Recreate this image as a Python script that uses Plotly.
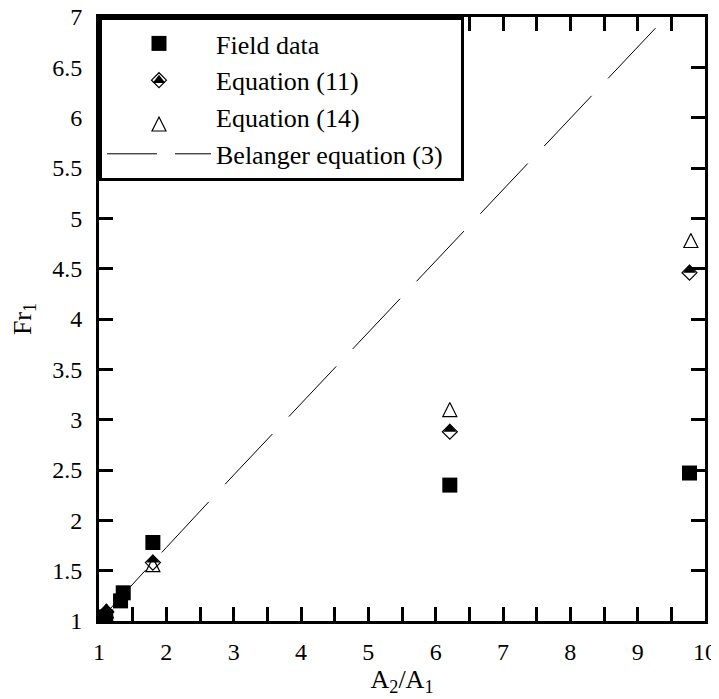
import plotly.graph_objects as go

# ---- data ----
ratio_field = [1.10, 1.32, 1.36, 1.80, 6.21, 9.77]
fr_field = [1.04, 1.20, 1.28, 1.78, 2.35, 2.47]

ratio_eq11 = [1.11, 1.80, 6.21, 9.77]
fr_eq11 = [1.09, 1.58, 2.88, 4.46]

ratio_eq14 = [1.11, 1.80, 6.21, 9.79]
fr_eq14 = [1.10, 1.56, 3.10, 4.78]

ratio_bel = [1.0, 1.5, 2.0, 3.0, 4.0, 5.0, 6.0, 7.0, 8.0, 9.0, 9.28]
fr_bel = [1.0, 1.37, 1.73, 2.45, 3.16, 3.87, 4.58, 5.29, 6.0, 6.71, 6.9]

FONT = "Liberation Serif"
FS_TICK = 24
FS_TEXT = 26
PLOT_H = 604          # plot-area height in px (699 - 9 - 86)
ROW_H = FS_TEXT * 1.3 + 3   # legend row height used by plotly

fig = go.Figure()

# Belanger line (legend entry drawn by a legend-only twin with a shorter dash)
fig.add_trace(go.Scatter(
    x=ratio_bel, y=fr_bel, mode="lines", name="Belanger equation (3)",
    showlegend=False, line=dict(color="black", width=1, dash="69px,24px")))

# upper (filled) half of the half-filled diamond
fig.add_trace(go.Scatter(
    x=ratio_eq11, y=fr_eq11, mode="markers", name=" ", legend="legend2",
    marker=dict(symbol="triangle-down", angle=180, standoff=2.75, size=11,
                color="black", line=dict(width=0))))

fig.add_trace(go.Scatter(
    x=ratio_eq11, y=fr_eq11, mode="markers", name="Equation (11)", legendrank=2,
    marker=dict(symbol="diamond-open", size=11.5, color="black",
                line=dict(width=1.2, color="black"))))

# open isosceles triangles
fig.add_trace(go.Scatter(
    x=ratio_eq14, y=fr_eq14, mode="markers", name=" ", legend="legend3",
    marker=dict(symbol="arrow-down-open", angle=180, standoff=7, size=14,
                color="black", line=dict(width=1.2, color="black"))))

fig.add_trace(go.Scatter(
    x=ratio_field, y=fr_field, mode="markers", name="Field data", legendrank=1,
    marker=dict(symbol="square", size=15, color="black", line=dict(width=0))))

# legend-only entries (text rows whose symbols are drawn by legend2/legend3 overlays)
fig.add_trace(go.Scatter(
    x=[None], y=[None], mode="markers", name="Equation (14)", legendrank=3,
    marker=dict(symbol="square", size=10, color="rgba(0,0,0,0)")))
fig.add_trace(go.Scatter(
    x=[None], y=[None], mode="lines", name="Belanger equation (3)\u00a0\u00a0", legendrank=4,
    line=dict(color="black", width=1, dash="50px,18px")))

axis_common = dict(
    showline=True, linewidth=3, linecolor="black", mirror="ticks",
    ticks="inside", ticklen=14, tickwidth=3, tickcolor="black",
    showgrid=False, zeroline=False, automargin=False,
    ticklabeloverflow="allow",
    tickfont=dict(family=FONT, size=FS_TICK, color="black"),
)

fig.update_xaxes(range=[1, 10], dtick=1, tick0=1,
                 minor=dict(dtick=0.5, ticks="inside", ticklen=14, tickwidth=3,
                            tickcolor="black", showgrid=False),
                 title=dict(text="A<sub>2</sub>/A<sub>1</sub>",
                            font=dict(family=FONT, size=FS_TEXT, color="black"), standoff=4),
                 ticklabelstandoff=7,
                 **axis_common)
fig.update_yaxes(range=[1, 7], dtick=0.5, tick0=1,
                 title=dict(text="Fr<sub>1</sub>",
                            font=dict(family=FONT, size=FS_TEXT, color="black"), standoff=17),
                 ticklabelstandoff=9,
                 **axis_common)

legend_common = dict(xanchor="left", yanchor="top", x=0,
                     font=dict(family=FONT, size=FS_TEXT, color="black"),
                     itemwidth=104, borderwidth=3)

fig.update_layout(
    width=719, height=699,
    margin=dict(l=91, r=22, t=9, b=86),
    paper_bgcolor="white", plot_bgcolor="white",
    font=dict(family=FONT, size=FS_TEXT, color="black"),
    legend=dict(y=1, bgcolor="white", bordercolor="black", traceorder="normal",
                **legend_common),
    legend2=dict(y=1 - (ROW_H - 2.75) / PLOT_H, bgcolor="rgba(0,0,0,0)",
                 bordercolor="rgba(0,0,0,0)", **legend_common),
    legend3=dict(y=1 - (2 * ROW_H - 7) / PLOT_H, bgcolor="rgba(0,0,0,0)",
                 bordercolor="rgba(0,0,0,0)", **legend_common),
)

fig.write_html("out.html")
